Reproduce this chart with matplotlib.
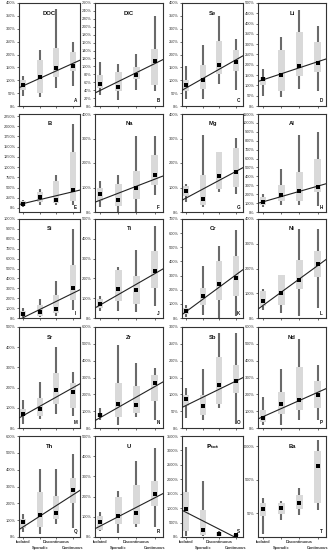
import matplotlib
matplotlib.use('Agg')
import matplotlib.pyplot as plt
import numpy as np

plt.rcParams['font.family'] = ['Liberation Sans', 'DejaVu Sans']

# Categories and panel names
categories = ['Isolated', 'Sporadic', 'Discontinuous', 'Continuous']
elements = ['DOC', 'DIC', 'Se', 'Li', 'B', 'Na', 'Mg', 'Al', 'Si', 'Ti',
            'Cr', 'Ni', 'Sr', 'Zr', 'Sb', 'Nd', 'Th', 'U', r'$\mathbf{P_{tot}}$', 'Ba']
letters = list('ABCDEFGHIJKLMNOPQRST')

# Box statistics (% values), one row per panel, one value per category
whis_lo = [[38, 34, 71, 77], [28, 14, 41, 38], [28, 28, 84, 63], [48, 43, 81, 73],
           [25, 82, 66, 66], [19, 0, 0, 71], [40, 21, 82, 74], [55, 80, 80, 62],
           [10, 10, 24, 78], [34, 34, 29, 59], [7, 24, 0, 17], [34, 20, 9, 40],
           [20, 46, 71, 61], [46, 16, 66, 50], [31, 23, 59, 13], [16, 16, 50, 50],
           [30, 20, 79, 53], [28, 21, 50, 50], [23, 23, 23, 23], [12, 31, 46, 65]]
q1 = [[61, 50, 111, 136], [45, 37, 67, 52], [59, 65, 124, 137], [104, 73, 147, 165],
      [49, 148, 124, 165], [44, 23, 55, 110], [67, 30, 92, 103], [73, 127, 127, 226],
      [24, 24, 51, 179], [51, 88, 72, 152], [31, 90, 130, 158], [47, 51, 117, 164],
      [58, 61, 121, 99], [66, 64, 89, 159], [66, 38, 71, 105], [36, 85, 105, 119],
      [55, 59, 109, 202], [36, 63, 66, 153], [197, 58, 23, 23], [43, 48, 68, 100]]
q3 = [[100, 178, 226, 210], [78, 85, 99, 143], [100, 160, 251, 218], [142, 274, 361, 312],
      [165, 379, 651, 1368], [99, 116, 167, 232], [108, 153, 245, 260], [164, 298, 444, 600],
      [67, 135, 236, 539], [98, 241, 211, 337], [68, 212, 401, 441], [108, 175, 236, 272],
      [94, 149, 273, 222], [89, 266, 248, 314], [98, 98, 210, 188], [105, 215, 362, 278],
      [109, 267, 244, 352], [104, 198, 256, 276], [1565, 927, 174, 104], [104, 100, 174, 3500]]
whis_hi = [[116, 219, 377, 249], [112, 107, 130, 227], [157, 235, 348, 261], [180, 337, 464, 386],
           [206, 461, 808, 2044], [126, 149, 310, 311], [116, 315, 245, 301], [207, 480, 863, 899],
           [101, 195, 377, 903], [113, 258, 345, 466], [94, 370, 511, 625], [119, 175, 360, 360],
           [141, 228, 402, 278], [119, 493, 387, 358], [118, 175, 281, 281], [185, 348, 527, 372],
           [139, 406, 406, 491], [124, 228, 376, 442], [3106, 1947, 197, 139], [141, 117, 283, 7500]]
means = [[80, 111, 148, 157], [56, 47, 77, 114], [80, 100, 161, 172], [132, 150, 195, 208],
         [107, 264, 206, 437], [74, 51, 99, 149], [85, 53, 145, 163], [109, 189, 233, 280],
         [44, 61, 94, 303], [71, 148, 143, 239], [47, 158, 238, 283], [67, 101, 152, 218],
         [71, 94, 190, 179], [76, 143, 139, 268], [85, 66, 128, 140], [60, 145, 169, 199],
         [89, 129, 145, 281], [74, 102, 119, 211], [985, 232, 110, 80], [68, 73, 100, 1300]]

# Trend line values at Isolated and Continuous (None = no trend line)
trend_iso = [78.8, 39, 70.7, 127, 108, 47.8, 57.7, 114, 5, 65,
             47, 50.5, 62, 60.7, 67.5, 67, 61, 53.6, 849, None]
trend_con = [165, 107, 178.8, 215, 394, 134, 165, 290.5, 249, 224,
             303.5, 212, 198.5, 246, 139, 212, 249, 194, -18, None]

# Axis ranges
y_min = [0, 0, 0, 0, -100, 0, 0, 0, 0, 0,
         0, 0, 0, 0, 0, 0, 0, 0, 0, None]
y_max = [400, 260, 400, 500, 2300, 400, 400, 1100, 1000, 500,
         700, 400, 500, 600, 300, 600, 600, 500, 3500, None]
y_step = [50, 20, 50, 50, 250, 100, 100, 100, 100, 100,
          100, 100, 100, 100, 50, 100, 100, 100, 500, None]

# Layout in pixels
W, H = 328, 550
cols = [(19, 80), (95, 163), (182, 243), (258, 326)]
rows = [(3, 106), (114, 212), (219, 318), (327, 428), (436, 537)]
xlim = (0.73, 4.45)
pos = np.arange(1, 5)

frame_c = '#333333'
box_c = '#d9d9d9'
whisk_c = '#6a6a6a'

fig = plt.figure(figsize=(W / 100, H / 100), dpi=100)

for i in range(20):
    r, c = divmod(i, 4)
    x0, x1 = cols[c]
    y0, y1 = rows[r]
    ax = fig.add_axes([x0 / W, 1 - y1 / H, (x1 - x0) / W, (y1 - y0) / H])

    stats = []
    for k in range(4):
        stats.append(dict(whislo=whis_lo[i][k], q1=q1[i][k], med=means[i][k],
                          q3=q3[i][k], whishi=whis_hi[i][k], mean=means[i][k],
                          fliers=[]))
    ax.bxp(stats, positions=pos, widths=0.36, patch_artist=True,
           showcaps=False, showfliers=False, showmeans=True,
           boxprops=dict(facecolor=box_c, edgecolor='none', linewidth=0),
           whiskerprops=dict(color=whisk_c, linewidth=1.5, solid_capstyle='butt'),
           medianprops=dict(linewidth=0),
           meanprops=dict(marker='s', markerfacecolor='black',
                          markeredgewidth=0, markersize=2.4, zorder=5),
           manage_ticks=False)

    if trend_iso[i] is not None:
        slope = (trend_con[i] - trend_iso[i]) / 3.0
        xs = np.array(xlim)
        ax.plot(xs, trend_iso[i] + slope * (xs - 1), color='#222222',
                linewidth=0.8, zorder=4)

    ax.set_xlim(*xlim)
    if y_max[i] is None:
        ax.set_yscale('log')
        ax.set_ylim(10, 10000)
        ticks = [50, 500, 5000]
        ax.minorticks_off()
    else:
        ax.set_ylim(y_min[i], y_max[i])
        ticks = np.arange(0, y_max[i] + 1, y_step[i])
    ax.set_yticks(ticks)
    ax.set_yticklabels([f'{t:g}%' for t in ticks])

    ax.set_xticks(pos)
    if r == 4:
        ax.set_xticklabels(categories, fontweight='bold')
    else:
        ax.set_xticklabels([])

    ax.tick_params(axis='both', labelsize=2.8, length=1.5, width=0.5,
                   colors=frame_c, pad=1)
    if r == 4:
        # staggered category labels
        for k, tk in enumerate(ax.xaxis.get_major_ticks()):
            tk.set_pad(1 if k % 2 == 0 else 5)
    for sp in ax.spines.values():
        sp.set_color(frame_c)
        sp.set_linewidth(0.8)

    ax.text(0.5, 0.9, elements[i], transform=ax.transAxes, ha='center',
            va='center', fontsize=4.2, fontweight='bold', color='#111111')
    ax.text(0.93, 0.05, letters[i], transform=ax.transAxes, ha='center',
            va='center', fontsize=3.3, fontweight='bold', color='#111111')

fig.savefig('out.png', dpi=100, facecolor='white')
